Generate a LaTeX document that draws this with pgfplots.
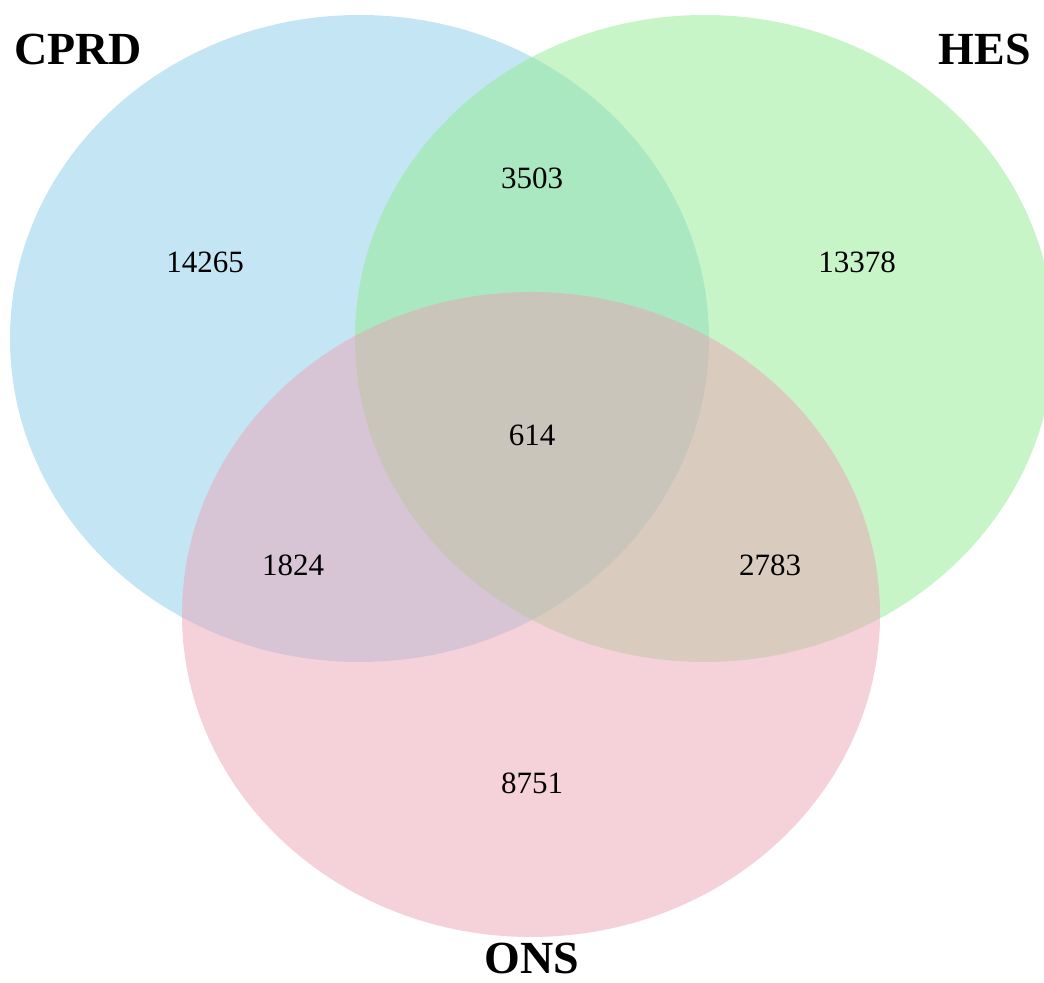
\documentclass[border=0pt]{standalone}
\usepackage{pgfplots}
\usepackage{pgfplotstable}
\pgfplotsset{compat=1.18}
\usepackage{fontspec}
\setmainfont{Liberation Serif}
\definecolor{cprd}{RGB}{137,205,233}
\definecolor{hes}{RGB}{145,235,145}
\definecolor{ons}{RGB}{235,163,181}
\pgfplotstableread{
x y label
205 721 14265
532 805 3503
857 721 13378
532 548 614
293 418 1824
770 418 2783
532 200 8751
}\counts
\pgfplotstableread{
x y label
78 933 CPRD
985 933 HES
532 24 ONS
}\sets
\begin{document}
\begin{tikzpicture}
\begin{axis}[
  x=0.5pt, y=0.5pt,
  xmin=0, xmax=1044, ymin=0, ymax=983,
  hide axis, clip=true,
  anchor=south west, at={(0,0)},
]
\fill[cprd, fill opacity=0.5] (axis cs:359.5,644.5) ellipse [x radius=174.75pt, y radius=161.75pt];
\fill[hes, fill opacity=0.5] (axis cs:704.5,644.5) ellipse [x radius=174.75pt, y radius=161.75pt];
\fill[ons, fill opacity=0.5] (axis cs:531,368.5) ellipse [x radius=174.5pt, y radius=161.25pt];
\addplot[draw=none, mark=none, nodes near coords, point meta=explicit symbolic,
  nodes near coords style={anchor=center, font=\fontsize{15.5}{18}\selectfont, text=black}]
  table[x=x, y=y, meta=label] {\counts};
\addplot[draw=none, mark=none, nodes near coords, point meta=explicit symbolic,
  nodes near coords style={anchor=center, inner sep=0pt, font=\fontsize{23}{28}\selectfont\bfseries, text=black}]
  table[x=x, y=y, meta=label] {\sets};
\end{axis}
\pgfresetboundingbox
\path[use as bounding box] (0,0) rectangle (522pt,491.5pt);
\end{tikzpicture}
\end{document}
